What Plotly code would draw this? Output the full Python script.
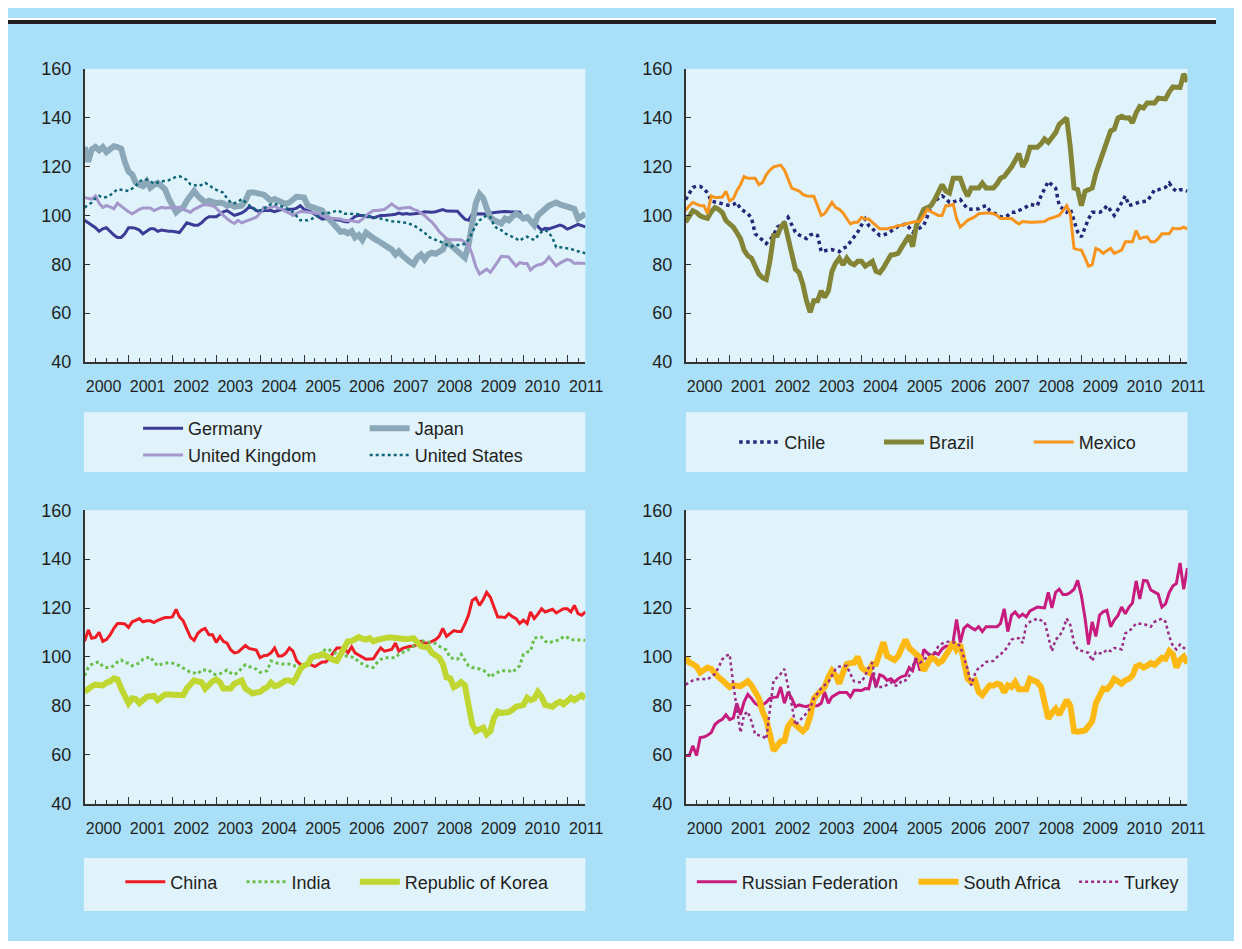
import plotly.graph_objects as go
import pandas as pd

# ---------------- data (monthly, Jan 2000 - Jun 2011) ----------------
months = pd.date_range("2000-01-01", periods=138, freq="MS")

germany = [
    98, 97, 96, 95, 93.5, 94.5, 95, 93.5, 92, 91, 91, 92.5,
    95, 95, 94.7, 94, 92.5, 93.5, 94.5, 94.5, 93.5, 94, 93.7, 93.5,
    93.5, 93.2, 93, 95, 97, 96.5, 96, 96, 97, 98.5, 99.5, 99.5,
    99.5, 100.5, 101.5, 102, 101, 100, 100.5, 101, 102, 103.5, 103, 102,
    101.5, 102, 102, 102, 101.5, 102, 102.5, 102, 102.5, 102.5, 103, 104,
    102.5, 102, 101.5, 100.5, 99.5, 98.5, 98.7, 98.5, 98.5, 98, 98, 97.5,
    97.3, 98.5, 99.5, 100, 100, 99.5, 99.6, 99, 99.5, 100, 100, 100.3,
    100.3, 100.5, 101, 100.5, 100.8, 100.5, 100.7, 100.7, 101, 101.5, 101.3, 101.3,
    101.5, 102, 102.4, 101.8, 101.7, 101.5, 101.7, 100, 98.5, 98, 100.5, 100.7,
    100.7, 100.5, 100.6, 101, 101.2, 101.6, 101.5, 101.6, 101.6, 101.6, 101.5, 101.3,
    99, 98.7, 98, 97, 95.5, 94, 94.7, 94.5, 95, 95.5, 96, 95.5,
    94.4, 95, 95.5, 96.3, 95.8, 95.3,
]
japan = [
    128, 122, 127, 128, 126.7, 128, 126, 127, 128.3, 128, 127.3, 122,
    118, 116.7, 113.5, 112.5, 112, 114, 111.3, 112.5, 113.3, 112, 110.7, 107,
    104, 101.3, 102.5, 103.3, 106, 108, 110, 108, 106.5, 105.3, 106, 105.5,
    105, 105.3, 105, 104, 104.5, 103.6, 103.8, 104, 106, 109.3, 109.5, 109.3,
    109, 108.5, 107.3, 106, 106.7, 106, 105.5, 104.7, 105.3, 106.5, 107.7, 107.5,
    107.3, 104, 103.5, 102.7, 102.3, 102, 100, 98.5, 96.7, 95, 93.3, 93.5,
    92.7, 93.6, 91, 92, 90, 93, 91.5, 90.7, 89.8, 89, 88, 87.3,
    86, 84, 85.3, 83.5, 82, 81, 80, 82.7, 84, 82, 84, 84.7,
    84.3, 85, 86, 89.3, 88, 86.7, 85, 83.3, 82.7, 88, 96, 105,
    108.7, 107, 103, 99.3, 98, 97, 96.7, 98.7, 98, 99.5, 100.7, 100,
    98.7, 99.3, 98, 96, 100, 101.5, 103.3, 104, 104.7, 105.3, 104.5, 104,
    103.3, 103, 102.7, 98.7, 99.5, 100.7,
]
united_kingdom = [
    107.3, 107, 106.7, 108, 105, 103.3, 104, 103.5, 102.7, 105, 104, 102.7,
    101.5, 100.7, 101.5, 102.5, 103, 103, 103, 102, 102.5, 103.3, 103, 103,
    103, 103.2, 103.3, 102.5, 102, 101.3, 102.5, 103.3, 104, 104.5, 104.3, 104,
    103, 101.3, 100, 98.7, 97.5, 96.7, 98, 97, 97.5, 98, 98.7, 99.3,
    101, 103.3, 103, 103.3, 103.7, 103, 102.7, 101.6, 101, 100, 101, 101.6,
    101.5, 101.3, 101.3, 101, 100.5, 100, 99.3, 99, 98.8, 98.7, 98.5, 98,
    98, 97.8, 97.5, 97.3, 98.5, 100, 101, 102, 102, 102.2, 102.4, 103.5,
    104.7, 103.5, 102.7, 103, 103.3, 103.3, 102.5, 102, 101, 100, 98.5, 97.3,
    95.5, 93.3, 92, 90.5, 90, 90, 90, 90, 89, 88, 84, 79,
    76, 77, 78, 76.7, 78.7, 81, 83.3, 83.3, 83, 81, 79.3, 80.7,
    80.3, 80.3, 77.6, 79, 79.7, 80, 81, 83, 81, 79.3, 80.5, 81.3,
    82, 81.5, 80.3, 80.5, 80.3, 80.3,
]
united_states = [
    103.3, 104.5, 105.3, 107, 108, 107.3, 107.5, 108.3, 109.5, 110.7, 110.5, 110.3,
    110, 111, 112, 114, 114.5, 114.7, 114, 113, 113.5, 114, 114.2, 114.4,
    115, 115.8, 116, 115.5, 114.5, 112.7, 112.5, 112, 112.5, 113.3, 112.5, 111.3,
    110.5, 110, 109.3, 107, 105.3, 105, 105.5, 106.7, 105.5, 104, 103, 102.5,
    102, 102.5, 104, 104.5, 104.7, 104.3, 103.8, 103.3, 102.5, 101.3, 99.5, 98,
    98, 98, 98.5, 99, 99.8, 100.7, 101.3, 101, 101.5, 102, 101.5, 100.7,
    100.7, 100.7, 100.7, 100.5, 100, 100, 99.5, 99.3, 99, 98.7, 98.3, 97.8,
    97.6, 97.5, 97.4, 97.3, 97, 96.5, 96, 95, 94, 93, 91.3, 90.5,
    90, 89.5, 88.7, 88, 87.3, 87.5, 88, 88.2, 88.3, 90, 93, 96,
    98, 99, 100, 99.3, 96, 94.4, 94, 92.7, 92, 91.3, 90.5, 89.6,
    90.7, 91.3, 90.5, 90, 91.5, 93.3, 94, 93, 90.7, 87, 87, 86.8,
    86.7, 86.3, 85.7, 85.3, 84.8, 84.5,
]

chile = [
    106.5, 109, 111.5, 112, 111.9, 111, 109.2, 105.9, 105.5, 105, 104.5, 104.3,
    104, 104.5, 105.3, 102.7, 101.5, 100.7, 99, 92.5, 91.2, 90, 88.5, 90,
    91.8, 95.2, 95.9, 97, 99.2, 96, 93.2, 92, 91.2, 90.5, 92, 92.5,
    91.8, 85.2, 85.5, 85.8, 86, 85.5, 85.2, 86.5, 87.2, 89.2, 91, 93.2,
    96, 98.5, 95.9, 94.5, 93.2, 91.8, 92, 92.5, 93.5, 94.6, 95.5, 96,
    96.5, 95, 93.2, 94, 95, 95.9, 99.5, 104, 106, 107, 108, 107,
    105.3, 105.5, 106, 106.5, 104.5, 102.7, 102.5, 102.7, 102.7, 103.5, 104, 102,
    101, 100, 99.5, 99.3, 100, 101.3, 101.3, 102, 102.7, 103.5, 104.5, 104.3,
    104, 108, 111, 113.9, 112.5, 111.2, 104, 102.5, 101.3, 102.7, 98, 93.2,
    91.2, 95, 98.5, 101.3, 101.3, 101.3, 102, 104, 102, 100, 102.5, 105.3,
    108, 104, 104.5, 105.3, 105.5, 105.7, 105.9, 108, 110.5, 110.5, 111, 111.5,
    113.2, 111, 109.9, 110.5, 110.5, 109.9,
]
brazil = [
    97.2, 99.9, 101.9, 101.2, 99.8, 99.2, 98.8, 101.5, 103.2, 102.5, 101.2, 97.9,
    96.5, 95.2, 93, 90.5, 85.8, 83.5, 82.5, 79.2, 76, 74.5, 73.8, 81.2,
    91.8, 91.8, 95, 97.2, 90.5, 83.8, 78, 76.5, 71.8, 65.1, 60.4, 65.1,
    65.1, 69.1, 66.5, 69.1, 77.1, 80.5, 82.5, 79.8, 82.5, 80.5, 79.8, 81.2,
    81.2, 79.2, 80, 81.2, 77.1, 76.5, 78.5, 81, 83.8, 84, 84.5, 87,
    89.2, 91.8, 87.2, 95.9, 99, 102.5, 103.2, 104, 106.5, 109.5, 112.6, 110,
    109.2, 115.2, 115.2, 115.2, 111, 107.9, 111.2, 111.2, 111.2, 113.2, 111.2, 111.2,
    111.2, 113, 115.2, 115.9, 117.5, 119.9, 122.5, 125.3, 119.9, 122.6, 127.9, 128,
    127.9, 129.3, 131.3, 129.9, 132, 133.9, 137.3, 138.5, 139.9, 127.9, 111.2, 110.6,
    104, 109.9, 110.5, 111.2, 117.2, 122, 126.6, 129.9, 134.6, 135.3, 139.9, 140.6,
    139.9, 140, 137.9, 142, 144.6, 144, 146, 146, 146, 148, 147.7, 147.7,
    150.6, 152.6, 152.5, 152.4, 158, 154.7,
]
mexico = [
    102, 104, 105.3, 104.6, 104, 104, 100.7, 108, 107.3, 107.3, 107.5, 109.9,
    105.9, 106.9, 110, 112.6, 115.9, 115.2, 115.2, 115.2, 112.6, 113.5, 116.6, 118.5,
    119.9, 120.3, 120.6, 118.6, 115, 111.2, 110.6, 110, 108.6, 108, 107.9, 107.9,
    104, 100, 100.7, 103, 105.3, 103.2, 102.5, 101, 98.7, 96.5, 97.2, 97.2,
    99.2, 98.5, 98.5, 97.2, 96, 94.5, 94.5, 94.5, 95, 95.2, 95.9, 96,
    96.5, 97, 97.2, 97.5, 97.5, 100, 102.5, 101.5, 100.7, 100, 100, 104,
    104, 104.6, 98.7, 95.2, 96.5, 98, 98.7, 99.5, 100.7, 101, 101, 101,
    100.7, 100, 98.7, 98.7, 98.7, 98.7, 97.5, 96.5, 97.5, 97.2, 97.2, 97.2,
    97.2, 97.2, 97.5, 98.5, 99, 99.5, 100, 102, 104, 100.7, 86.5, 86,
    85.8, 82.5, 79.2, 79.8, 86.5, 85.8, 84.5, 85.5, 86.5, 84.5, 85, 85.8,
    89.2, 89.2, 89.2, 93.8, 90.5, 91, 91.2, 89.2, 89.2, 90.5, 92.5, 92.5,
    92.5, 94.8, 94.5, 94.5, 95.2, 94.5,
]

china = [
    106.4, 111.1, 107.7, 108, 110.1, 106.4, 107.1, 109, 111.7, 113.7, 113.7, 113.5,
    112.1, 114.4, 115, 115.7, 114.4, 114.8, 114.8, 114.1, 115, 115.7, 116.1, 116.1,
    116.4, 119.5, 116.4, 114.8, 111.1, 108, 106.8, 109.7, 111, 111.7, 109.1, 109.1,
    106, 108.4, 106.4, 105.7, 103, 101.7, 102, 103.5, 104.7, 103.5, 103.1, 102.8,
    99.7, 100.5, 100.7, 101.7, 103.7, 100.4, 100.4, 101.5, 103.7, 102.4, 98.4, 97,
    96.4, 97.5, 96.8, 96.1, 97, 98, 98, 99.5, 101.7, 103.7, 103.7, 103.7,
    101.7, 104.1, 101.7, 100.8, 100, 99.1, 99.2, 99.3, 101.7, 103.7, 102.4, 102.8,
    103.1, 105.7, 102.4, 103.5, 104.1, 104.4, 104.4, 105.1, 106.4, 105.7, 105.7, 106.5,
    107.1, 108.5, 111.7, 108.4, 109.5, 110.8, 110.4, 110.4, 113.5, 117.1, 123.1, 124.1,
    121.1, 123.5, 126.4, 124.4, 120.4, 116.4, 116.4, 116.1, 117.7, 116.5, 115.7, 113.7,
    115.1, 113.7, 118.4, 115.7, 117.5, 119.7, 118.4, 119, 119.5, 118, 119, 119.7,
    119.7, 118.4, 121.1, 117.7, 117.1, 118.4,
]
india = [
    92.4, 95.7, 97, 97.7, 98, 96.1, 95.7, 95.7, 96.5, 98, 98.8, 97.5,
    97.5, 96.4, 97, 97.5, 99.1, 99.7, 100.1, 98, 96.4, 97.1, 97.5, 97.7,
    97.5, 97.1, 96.4, 95.5, 94.4, 93.7, 93.5, 93.1, 94.7, 94.7, 94.7, 93.1,
    92.8, 93.2, 93.7, 94.7, 93.5, 92.8, 93.7, 95.5, 96.8, 96.1, 95.7, 95,
    93.7, 94, 94.4, 98.4, 97.8, 97.3, 97.1, 97.1, 97.1, 96.4, 96.4, 96.1,
    96.1, 97.1, 98.5, 99.7, 101, 101.7, 103.3, 102.8, 102.4, 101.1, 100.5, 100.4,
    100.4, 100, 99.7, 98, 97.1, 96.4, 96, 95.7, 97.7, 99, 99.7, 99.7,
    99.7, 99.7, 101.1, 101.7, 102.5, 103.3, 104.4, 106, 106.8, 106.4, 106, 105.7,
    105.5, 104.4, 103.5, 102.8, 99.7, 99.5, 99.1, 101.1, 98.5, 96.4, 95.7, 95.5,
    95.1, 94.5, 93.7, 91.7, 93, 93.7, 94.4, 94.4, 94.4, 93.7, 95, 96.4,
    101.1, 102, 102.4, 107.7, 108, 108.1, 106.5, 105.7, 106.4, 106.6, 107, 108.4,
    108, 107.1, 107.1, 107, 106.8, 106.8,
]
korea = [
    85.7, 87.1, 88, 88.7, 88.7, 88.4, 89.5, 90, 91.3, 90.8, 87.1, 84,
    81.1, 83.1, 82.8, 81.1, 82.5, 83.7, 84, 84.1, 82.4, 83.5, 84.7, 84.7,
    84.7, 84.7, 84.5, 84.4, 87.1, 89, 90.4, 90, 89.7, 87.1, 88.7, 90,
    90.8, 89.7, 87.1, 87.1, 87.1, 89.1, 90, 90.4, 87.1, 86, 85.1, 85.5,
    85.7, 87, 87.7, 89.5, 88.1, 88.5, 89.7, 90.4, 90.4, 89.7, 92, 95.1,
    96.5, 97.1, 99.7, 100.4, 100.4, 101.1, 100.5, 99.3, 98.8, 98.4, 101.1, 103,
    106.4, 106.5, 107.1, 108.1, 107.5, 107.1, 107.7, 106.4, 107, 107.5, 107.8, 108,
    108, 107.8, 107.7, 107.1, 107.3, 107.5, 107.7, 106, 104.4, 104.1, 104, 101.7,
    100.5, 99.7, 97.1, 91.7, 91.3, 87.7, 88.5, 89.7, 88.4, 81.7, 72.4, 69.7,
    70.5, 71.1, 68.4, 69.7, 75.1, 77.7, 77.1, 77.1, 77.5, 78.4, 79.7, 80,
    80.4, 83.3, 82.4, 83, 85.7, 83.7, 80.4, 80, 79.7, 81, 81.7, 80.7,
    82, 83.3, 82.4, 83.5, 84.4, 83.1,
]

russia = [
    59.7, 59.7, 63.7, 59.7, 67.1, 67.3, 68, 69.1, 72.4, 73.7, 74.5, 76.4,
    74.4, 75.1, 81.1, 76.4, 81.7, 84.7, 83.1, 81, 80.1, 80.4, 81.5, 83.1,
    83.5, 83.7, 87.7, 81.1, 85.7, 83.1, 79.7, 80.4, 80, 79.7, 80.4, 80.1,
    80.1, 81.1, 85.7, 81.1, 83.7, 84.5, 85.5, 85.5, 85.5, 83.7, 86.4, 86.4,
    86.3, 87.1, 87, 93.5, 87.7, 92.7, 92.1, 90.4, 91.1, 89.7, 91.1, 92,
    92.4, 95.7, 94.4, 100.4, 94.4, 103.1, 101.7, 100.1, 101.7, 101.1, 103.3, 104.4,
    104.4, 106.4, 115.3, 105.9, 111.7, 113.1, 112, 111.1, 112.4, 110.4, 112.4, 112.4,
    112.4, 112.4, 113.7, 119.7, 110.4, 117.1, 118.4, 116.4, 117.5, 116.4, 118.8, 119.5,
    120.4, 120.2, 120.1, 126.4, 120.1, 126.4, 127.7, 125.5, 125.5, 126.4, 127.7, 131.3,
    125.1, 115.7, 105.1, 114.4, 108.4, 117.1, 118.5, 119.1, 112.4, 115.1, 117, 120.4,
    117.7, 120.4, 122, 131.1, 123.7, 131.3, 131.1, 127.4, 126.5, 125.7, 120.4, 121.7,
    126.4, 129.1, 130, 138.4, 127.7, 136.4,
]
south_africa = [
    99.7, 97.7, 97.1, 96.1, 93.7, 94.4, 95.7, 95.1, 93, 91.7, 90.5, 89.1,
    87.7, 88.4, 88.2, 88.1, 89.1, 90.1, 88.4, 85.5, 83.1, 77.7, 74.4, 68.4,
    61.7, 63.7, 65.5, 65.7, 71.7, 73.7, 72.7, 71, 69.7, 71.1, 75.7, 83.1,
    84.7, 86, 87.7, 91.7, 94.4, 92.4, 89.1, 93.7, 97.1, 97.5, 97.7, 100.1,
    95.7, 94.5, 93.7, 97.1, 97.1, 101.7, 106, 100.4, 99.7, 98.8, 100.4, 104,
    107.1, 103.7, 102.4, 101.7, 99.7, 94.4, 97.1, 99.7, 99.1, 97.5, 98.4, 100.5,
    103.1, 106, 103.1, 105.1, 98, 91.1, 89.7, 90.4, 85.7, 84.4, 86.5, 88.4,
    88.4, 89.1, 88.7, 85.5, 88.4, 87.7, 89.7, 86.8, 86.8, 86.8, 91.1, 90.4,
    89.7, 87.7, 81.7, 74.8, 77.1, 78.8, 76.4, 79, 82.4, 80.1, 69.7, 69.5,
    69.7, 70, 71.7, 73.7, 81.1, 84.4, 87.1, 86.8, 88.5, 91.1, 90.4, 89.1,
    90.5, 91.1, 92.4, 96.1, 96.7, 95.7, 96.5, 97.5, 96.8, 98.4, 99.7, 99.3,
    102.4, 101.1, 95.7, 98.8, 100.1, 97.5,
]
turkey = [
    88.7, 89.5, 90.4, 90.8, 91.1, 91, 90.8, 92, 93.1, 95.7, 99.1, 100.4,
    101.1, 88.4, 79.1, 69.1, 76.4, 77.7, 73.7, 68.4, 68, 67.7, 66.4, 79.1,
    90.4, 91.7, 93.1, 95.1, 88.4, 80.4, 72.1, 73.7, 75.7, 77, 79.1, 83.1,
    85.1, 87.3, 88.5, 89.7, 92.4, 95.1, 96.1, 96.4, 96.4, 93.1, 90, 89.7,
    89.7, 92.4, 95.7, 97.7, 87.7, 87.7, 87.7, 88.7, 89.7, 88.4, 88.4, 90.4,
    90.4, 92.4, 96.4, 99.1, 97.7, 98.5, 100.4, 101.7, 101.7, 104.4, 105.5, 106,
    106.4, 106, 105.7, 104.4, 100, 95.1, 88.4, 93.1, 95.7, 96.5, 98, 98.2,
    98.4, 100, 101.1, 102.4, 104.4, 107.1, 107.7, 107.7, 105.7, 113.1, 114.4, 115,
    115.7, 115, 114.4, 108.4, 102.4, 107.1, 108.4, 111.1, 115.7, 113.1, 105.7, 103.1,
    102.4, 102, 101.7, 98.4, 102, 101.5, 101.5, 103.1, 102.4, 103.7, 103.5, 103.1,
    109.7, 110.4, 112, 113.7, 113.6, 113.5, 113, 112.4, 114.4, 115, 115.7, 114.4,
    108.4, 104.4, 103.1, 105.1, 103.7, 103.7,
]

y_ticks = [40, 60, 80, 100, 120, 140, 160]

# ---------------- layout helpers ----------------
# The figure sits inside the page's 8px body margin, so it is sized to fit the
# 1242x949 window exactly; positions below are page pixels, shifted by OFF.
OFF = 8
W, H = 1242 - 2 * OFF, 949 - 2 * OFF
BG = "#aadff8"
PLOT_BG = "#e0f3fb"
AXIS = "#333333"
TEXT = "#231f20"
FONT = "Liberation Sans, Arial, sans-serif"
ITEM_W = 40  # legend symbol width


def fx(x):
    return (x - OFF) / W


def fy(y):
    return 1 - (y - OFF) / H


# plot areas (left, right, top, bottom) in page px
areas = {
    1: (85.7, 594, 60, 359.5),
    2: (695.7, 1205, 60, 359.5),
    3: (85.7, 594, 511, 811),
    4: (695.7, 1205, 511, 811),
}

# (name, values, color, width, dash, panel, legend text-x, legend row-y)
series = [
    ("Germany", germany, "#3c3c97", 3, "solid", 1, 188, 427.5),
    ("Japan", japan, "#8ba8b9", 6, "solid", 1, 418, 427.5),
    ("United Kingdom", united_kingdom, "#a397cc", 3, "solid", 1, 188, 455),
    ("United States", united_states, "#0f6676", 2.5, "dot", 1, 418, 455),
    ("Chile", chile, "#262677", 3.5, "dot", 2, 793, 441.5),
    ("Brazil", brazil, "#848436", 5, "solid", 2, 940, 441.5),
    ("Mexico", mexico, "#f7941e", 3, "solid", 2, 1092, 441.5),
    ("China", china, "#ee1c25", 3, "solid", 3, 170, 891),
    ("India", india, "#6abf4b", 3, "dot", 3, 293, 891),
    ("Republic of Korea", korea, "#bfd730", 6, "solid", 3, 408, 891),
    ("Russian Federation", russia, "#c71c7e", 3, "solid", 4, 750, 891),
    ("South Africa", south_africa, "#fdb913", 6, "solid", 4, 975, 891),
    ("Turkey", turkey, "#9c2d85", 2.5, "dot", 4, 1138, 891),
]

fig = go.Figure()
layout = dict(
    width=W, height=H,
    margin=dict(l=0, r=0, t=0, b=0),
    paper_bgcolor=BG, plot_bgcolor=PLOT_BG,
    font=dict(family=FONT, size=18, color=TEXT),
    shapes=[], hovermode=False,
)

for i, (name, vals, color, width, dash, panel, tx, ty) in enumerate(series):
    leg = "legend" if i == 0 else f"legend{i + 1}"
    sfx = "" if panel == 1 else str(panel)
    fig.add_trace(go.Scatter(
        x=months, y=vals, name=name, mode="lines",
        line=dict(color=color, width=width, dash=dash),
        xaxis="x" + sfx, yaxis="y" + sfx, legend=leg, showlegend=True,
    ))
    layout[leg] = dict(
        x=fx(tx - ITEM_W - 8), y=fy(ty), xanchor="left", yanchor="middle",
        bgcolor="rgba(0,0,0,0)", borderwidth=0, itemwidth=ITEM_W,
        font=dict(family=FONT, size=18, color=TEXT),
    )

for p, (l, r, t, b) in areas.items():
    sfx = "" if p == 1 else str(p)
    layout["xaxis" + sfx] = dict(
        domain=[fx(l), fx(r)], anchor="y" + sfx,
        type="date", range=["2000-01-01", "2011-06-01"],
        tick0="2000-01-01", dtick="M12", tickformat="%Y",
        ticks="inside", ticklen=7, tickwidth=1.2, tickcolor=AXIS,
        ticklabelshift=19, ticklabelstandoff=9,
        tickfont=dict(family=FONT, size=16, color=TEXT),
        minor=dict(dtick="M3", ticks="inside", ticklen=4, tickwidth=1.2, tickcolor=AXIS),
        showline=True, linecolor=AXIS, linewidth=1.5,
        showgrid=False, zeroline=False, fixedrange=True,
    )
    layout["yaxis" + sfx] = dict(
        domain=[fy(b), fy(t)], anchor="x" + sfx,
        range=[40, 160], tickvals=y_ticks,
        ticks="inside", ticklen=6, tickwidth=1.2, tickcolor=AXIS,
        ticklabelstandoff=8,
        tickfont=dict(family=FONT, size=18, color=TEXT),
        showline=True, linecolor=AXIS, linewidth=1.5,
        showgrid=False, zeroline=False, fixedrange=True,
    )

# legend boxes
for (l, r, t, b) in [(85, 594, 411, 472), (696, 1205, 411, 472),
                     (85, 594, 866.5, 920.5), (696, 1205, 866.5, 920.5)]:
    layout["shapes"].append(dict(
        type="rect", xref="paper", yref="paper",
        x0=fx(l), x1=fx(r), y0=fy(b), y1=fy(t),
        fillcolor=PLOT_BG, line=dict(width=0), layer="below",
    ))
# white strip above the black rule at the top
layout["shapes"].append(dict(type="rect", xref="paper", yref="paper",
                             x0=0, x1=1, y0=fy(10), y1=1,
                             fillcolor="white", line=dict(width=0)))
layout["shapes"].append(dict(type="line", xref="paper", yref="paper",
                             x0=0, x1=1, y0=fy(12), y1=fy(12),
                             line=dict(color="#231f20", width=4)))

fig.update_layout(**layout)
fig.write_html("out.html", config={"displayModeBar": False})
